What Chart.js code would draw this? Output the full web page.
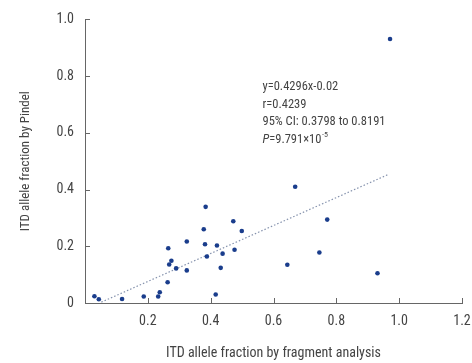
<!DOCTYPE html>
<html lang="en">
<head>
<meta charset="UTF-8">
<title>ITD allele fraction</title>
<style>
  html, body { margin: 0; padding: 0; background: #fff; }
  #wrap { width: 472px; height: 363px; }
</style>
</head>
<body>
<div id="wrap"><canvas id="myChart" width="472" height="363"></canvas></div>
<script src="https://cdn.jsdelivr.net/npm/chart.js"></script>
<script>
// fragment analysis (x) vs Pindel (y)
const fragX = [0.030, 0.044, 0.118, 0.187, 0.233, 0.238, 0.263, 0.265, 0.268, 0.275,
               0.290, 0.324, 0.324, 0.378, 0.384, 0.382, 0.388, 0.416, 0.420, 0.432,
               0.438, 0.472, 0.476, 0.499, 0.669, 0.771, 0.746, 0.644, 0.931, 0.971];
const pindelY = [0.024, 0.013, 0.014, 0.023, 0.023, 0.038, 0.073, 0.193, 0.136, 0.149,
                 0.122, 0.217, 0.115, 0.260, 0.339, 0.207, 0.164, 0.030, 0.203, 0.124,
                 0.174, 0.288, 0.188, 0.254, 0.410, 0.294, 0.178, 0.135, 0.105, 0.931];
// dotted fit line ends, as drawn
const fitX = [0.052, 0.965];
const fitY = [0.003, 0.453];

const xTicks = [0, 0.2, 0.4, 0.6, 0.8, 1.0, 1.2];
const yTicks = [0, 0.2, 0.4, 0.6, 0.8, 1.0];

const statLines = ['y=0.4296x-0.02', 'r=0.4239', '95% CI: 0.3798 to 0.8191'];

const FONT = "'Roboto Condensed', 'DejaVu Sans Condensed', sans-serif";
const axisColor = '#666';
const textColor = '#444';

// ticks drawn inward + stats text
const extras = {
  id: 'extras',
  afterDraw(chart) {
    const ctx = chart.ctx;
    const xs = chart.scales.x, ys = chart.scales.y;
    const a = chart.chartArea;
    ctx.save();
    ctx.strokeStyle = axisColor;
    ctx.lineWidth = 1;
    ctx.beginPath();
    xTicks.forEach(v => {
      if (v === 0) return;
      const px = Math.round(xs.getPixelForValue(v)) + 0.5;
      ctx.moveTo(px, a.bottom);
      ctx.lineTo(px, a.bottom - 5);
    });
    yTicks.forEach(v => {
      if (v === 0) return;
      const py = Math.round(ys.getPixelForValue(v)) + 0.5;
      ctx.moveTo(a.left, py);
      ctx.lineTo(a.left + 5, py);
    });
    ctx.stroke();

    ctx.fillStyle = textColor;
    ctx.font = '12.5px ' + FONT;
    ctx.textBaseline = 'middle';
    ctx.textAlign = 'left';
    const tx = xs.getPixelForValue(0.565);
    const ty = ys.getPixelForValue(0.762);
    const lh = 17.6;
    statLines.forEach((s, i) => ctx.fillText(s, tx, ty + i * lh));
    // P line with italic P and superscript
    let y4 = ty + 3 * lh;
    ctx.font = 'italic 12.5px ' + FONT;
    ctx.fillText('P', tx, y4);
    let w = ctx.measureText('P').width;
    ctx.font = '12.5px ' + FONT;
    const rest = '=9.791\u00d710';
    ctx.fillText(rest, tx + w, y4);
    w += ctx.measureText(rest).width;
    ctx.font = '8px ' + FONT;
    ctx.fillText('-5', tx + w + 0.5, y4 - 5);
    ctx.restore();
  }
};

new Chart(document.getElementById('myChart'), {
  type: 'scatter',
  data: {
    datasets: [{
      data: fragX.map((x, i) => ({ x: x, y: pindelY[i] })),
      backgroundColor: '#1a3d8c',
      borderColor: '#1a3d8c',
      borderWidth: 0,
      pointRadius: 2.3,
      pointHoverRadius: 2.3,
      order: 1
    }, {
      type: 'line',
      data: fitX.map((x, i) => ({ x: x, y: fitY[i] })),
      borderColor: '#8592ad',
      borderWidth: 1.2,
      borderDash: [1.5, 2],
      pointRadius: 0,
      fill: false,
      order: 2
    }]
  },
  options: {
    responsive: false,
    animation: false,
    layout: { padding: { left: 0, right: 0, top: 17, bottom: 0 } },
    plugins: { legend: { display: false }, tooltip: { enabled: false } },
    scales: {
      x: {
        type: 'linear',
        min: 0, max: 1.2,
        afterBuildTicks: s => { s.ticks = xTicks.map(v => ({ value: v })); },
        afterFit: s => { s.height = 60; s.paddingRight = 10; s.paddingLeft = 0; },
        grid: { display: false, drawTicks: false },
        border: { color: axisColor, width: 1 },
        ticks: {
          padding: 10,
          color: textColor,
          font: { family: FONT, size: 14 },
          callback: v => v === 0 ? '' : v.toFixed(1)
        },
        title: {
          display: true,
          text: 'ITD allele fraction by fragment analysis',
          color: textColor,
          font: { family: FONT, size: 14 },
          padding: { top: 0, bottom: 1 }
        }
      },
      y: {
        type: 'linear',
        min: 0, max: 1.0,
        afterBuildTicks: s => { s.ticks = yTicks.map(v => ({ value: v })); },
        afterFit: s => { s.width = 85; },
        grid: { display: false, drawTicks: false },
        border: { color: axisColor, width: 1 },
        ticks: {
          padding: 11,
          color: textColor,
          font: { family: FONT, size: 14 },
          callback: v => v === 0 ? '0' : v.toFixed(1)
        },
        title: {
          display: true,
          text: 'ITD allele fraction by Pindel',
          color: textColor,
          font: { family: FONT, size: 13 },
          padding: { top: 18, bottom: 0 }
        }
      }
    }
  },
  plugins: [extras]
});
</script>
</body>
</html>
